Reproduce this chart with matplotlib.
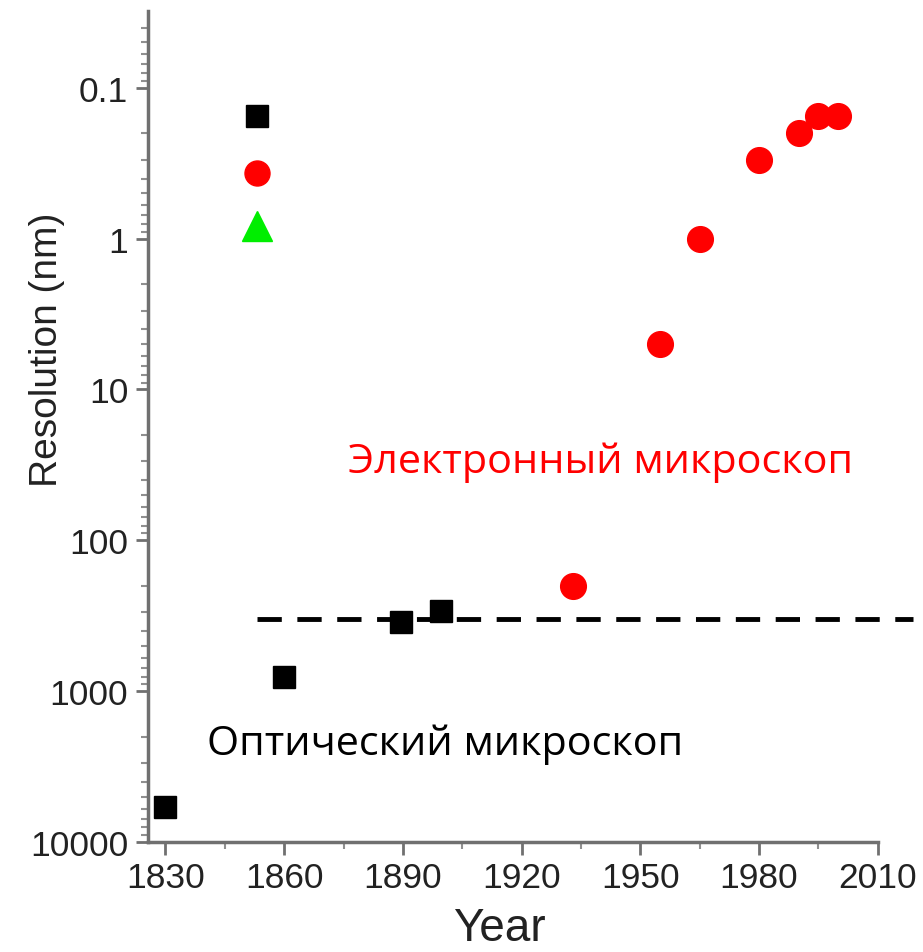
import numpy as np
import matplotlib
matplotlib.use("Agg")
import matplotlib.pyplot as plt
from matplotlib.ticker import FixedLocator, NullFormatter, LogLocator

# optical microscope (black squares)
opt_year = [1830, 1860, 1889.5, 1899.5]
opt_res = [5900, 800, 350, 296]

# electron microscope (red circles)
el_year = [1933, 1955, 1965, 1980, 1990, 1995, 2000]
el_res = [200, 5.0, 1.0, 0.30, 0.20, 0.153, 0.153]

# legend-like markers top left
leg_year = 1853
leg_sq = 0.155
leg_ci = 0.37
leg_tri = 0.83

# diffraction limit line
limit_res = 330
limit_x = [1853, 2019]

xticks = [1830, 1860, 1890, 1920, 1950, 1980, 2010]
yticks = [0.1, 1, 10, 100, 1000, 10000]
ytick_labels = ["0.1", "1", "10", "100", "1000", "10000"]

fig = plt.figure(figsize=(9.23, 9.53), dpi=100)
ax = fig.add_axes([0.160, 0.1154, 0.791, 0.872])

ax.plot(opt_year, opt_res, "s", color="black", ms=16, mec="black", zorder=3)
ax.plot(el_year, el_res, "o", color="red", ms=18.5, mec="red", zorder=3)
ax.plot([leg_year], [leg_sq], "s", color="black", ms=16, zorder=3)
ax.plot([leg_year], [leg_ci], "o", color="red", ms=18, zorder=3)
ax.plot([leg_year], [leg_tri], "^", color="#00ee00", ms=22, zorder=3)

ax.plot(limit_x, [limit_res, limit_res], color="black", lw=3.5,
        dashes=(5, 3.2), clip_on=False, zorder=2)

ax.set_yscale("log")
ax.set_xlim(1825.5, 2010)
ax.set_ylim(10000, 0.031)

ax.yaxis.set_major_locator(FixedLocator(yticks))
ax.set_yticklabels(ytick_labels)
ax.yaxis.set_minor_locator(LogLocator(base=10, subs=np.arange(2, 10)))
ax.yaxis.set_minor_formatter(NullFormatter())
ax.set_xticks(xticks)
ax.xaxis.set_minor_locator(FixedLocator([1845, 1875, 1905, 1935, 1965, 1995]))

for lab in ax.get_xticklabels() + ax.get_yticklabels():
    lab.set_fontfamily(["Liberation Sans", "DejaVu Sans"])
    lab.set_fontsize(25.5)
    lab.set_color("#222222")

for s in ["top", "right"]:
    ax.spines[s].set_visible(False)
for s in ["left", "bottom"]:
    ax.spines[s].set_color("#707070")
    ax.spines[s].set_linewidth(2.5)

ax.tick_params(which="major", direction="out", length=9, width=2, color="#707070", pad=5)
ax.tick_params(which="minor", direction="out", length=5, width=1.5, color="#909090")

ax.set_ylabel("Resolution (nm)", fontsize=28, family=["Liberation Sans", "DejaVu Sans"],
              color="#222222")
ax.yaxis.set_label_coords(-0.113, 0.593)
ax.set_xlabel("Year", fontsize=33, family=["Liberation Sans", "DejaVu Sans"],
              color="#222222")
ax.xaxis.set_label_coords(0.482, -0.077)

ax.text(1876, 30, "Электронный микроскоп", color="red", fontsize=29.8,
        family=["Open Sans", "DejaVu Sans"], va="center", ha="left")
ax.text(1840.5, 2240, "Оптический микроскоп", color="black", fontsize=29.8,
        family=["Open Sans", "DejaVu Sans"], va="center", ha="left")

fig.savefig("out.png", dpi=100)
